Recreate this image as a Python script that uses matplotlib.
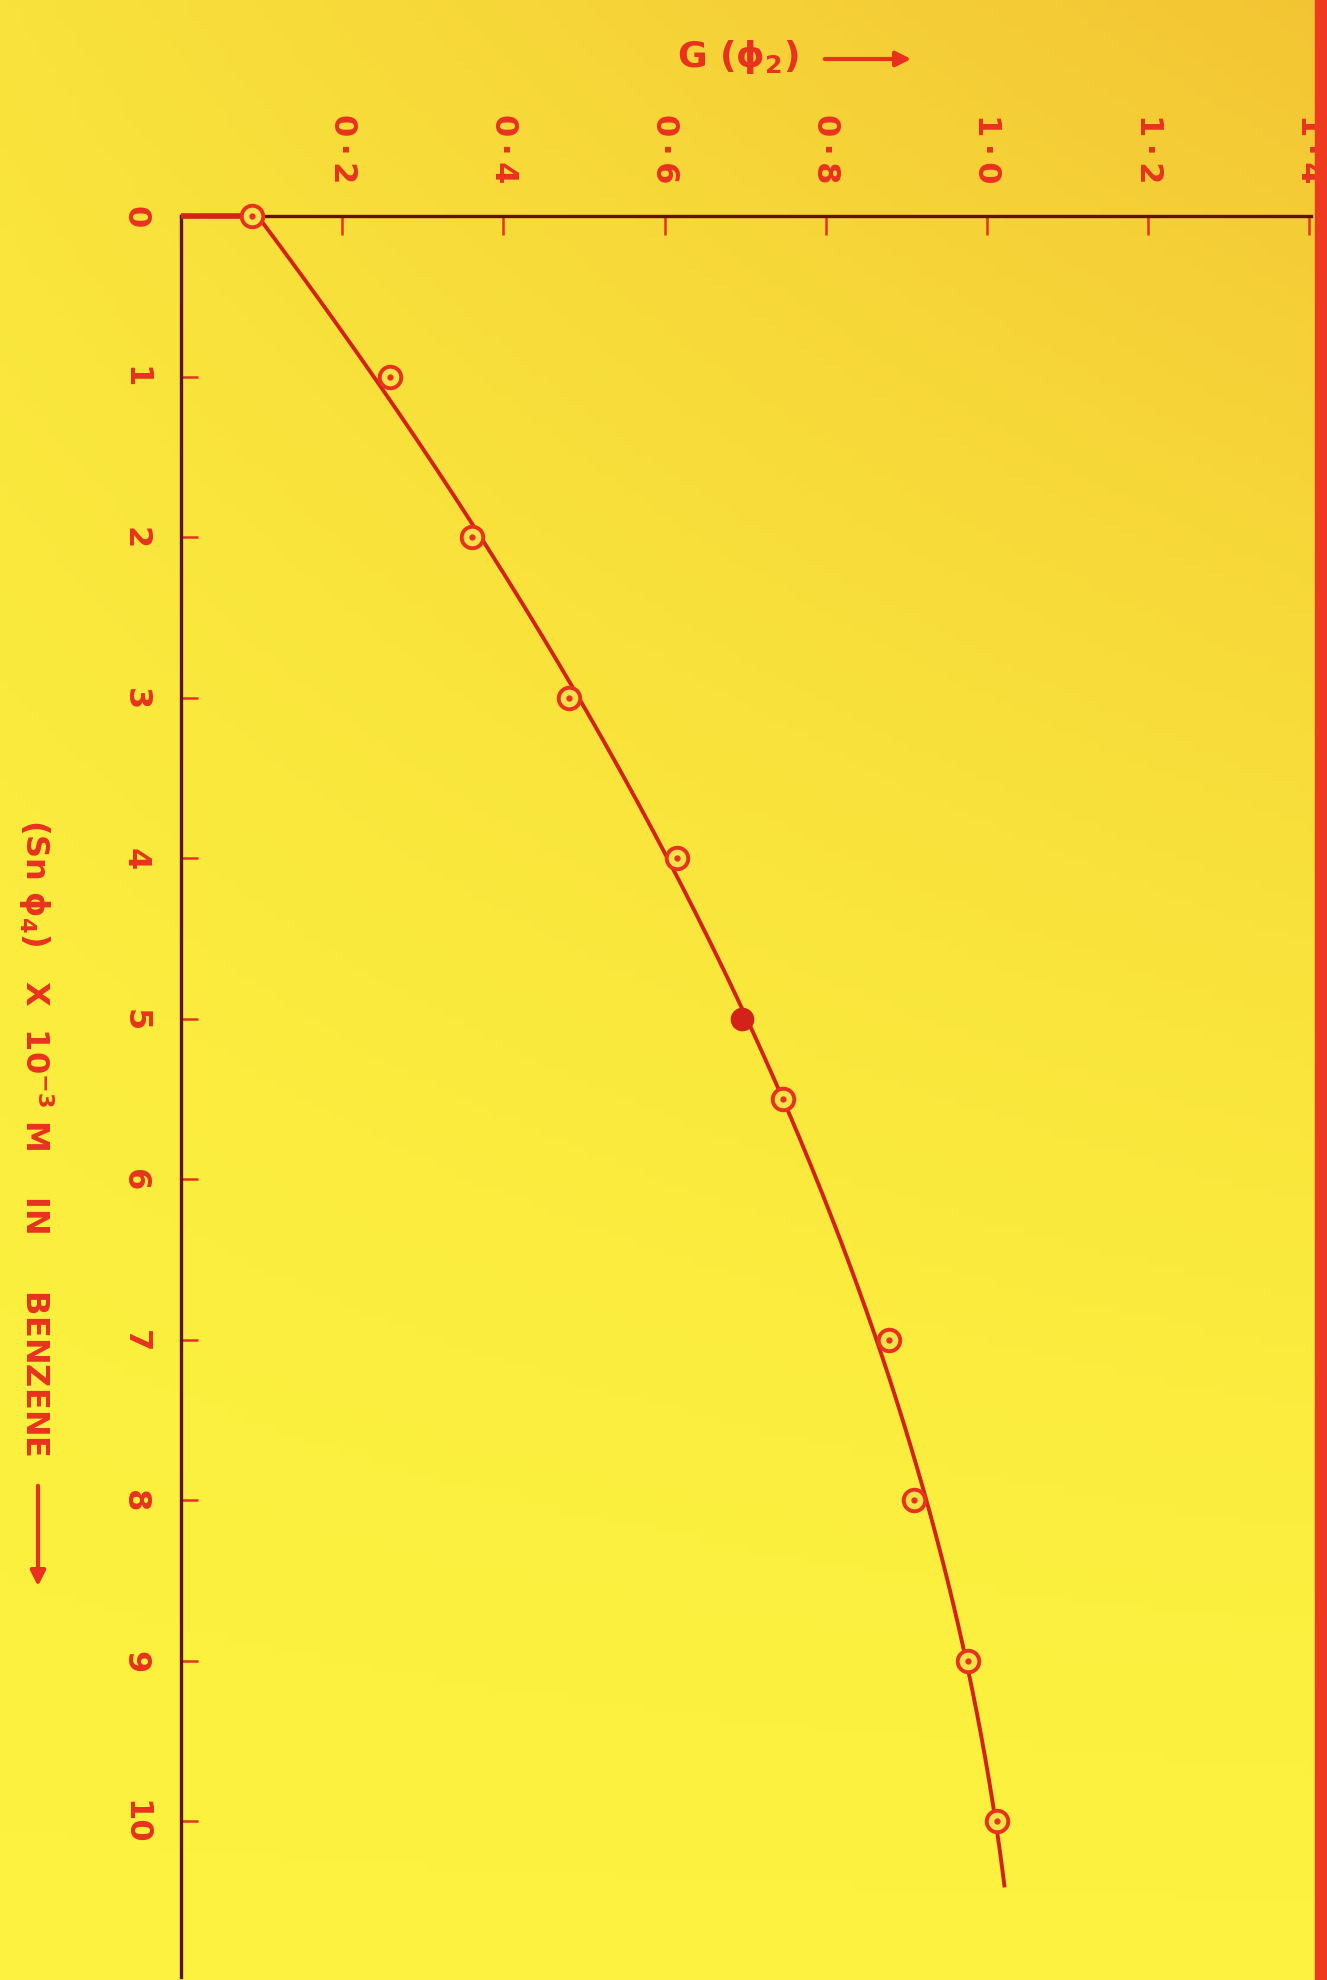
import numpy as np
import matplotlib
matplotlib.use("Agg")
import matplotlib.pyplot as plt
from matplotlib.patches import Rectangle, FancyArrowPatch

# ---- data ----
conc = [0, 1, 2, 3, 4, 5, 5.5, 7, 8, 9, 10]               # (Sn phi4) x 10^-3 M
g_phi2 = [0.088, 0.259, 0.361, 0.482, 0.615, 0.696, 0.747, 0.878, 0.910, 0.976, 1.012]
filled = [False, False, False, False, False, True, False, False, False, False, False]
curve_end = 10.4
conc_ticks = [0, 1, 2, 3, 4, 5, 6, 7, 8, 9, 10]
conc_tick_labels = ["0", "1", "2", "3", "4", "5", "6", "7", "8", "9", "10"]
g_ticks = [0.2, 0.4, 0.6, 0.8, 1.0, 1.2, 1.4]
g_tick_labels = ["0\u2009·\u20092", "0\u2009·\u20094", "0\u2009·\u20096", "0\u2009·\u20098",
                 "1\u2009·\u20090", "1\u2009·\u20092", "1\u2009·\u20094"]

RED = "#e8321e"
DARK = "#5e1208"
LINE = "#d4221a"

W, H = 1327, 1981
fig = plt.figure(figsize=(W / 100, H / 100), dpi=100)

# background (paper tint)
bg = fig.add_axes([0, 0, 1, 1], zorder=-10)
yy, xx = np.mgrid[0:1:200j, 0:1:140j]
base = np.array([0.99, 0.95, 0.25])
orange = np.array([0.95, 0.76, 0.20])
f = np.clip((1 - yy) ** 1.6 * (0.35 + 0.65 * xx) * 0.95, 0, 1)[..., None]
img = base * (1 - f) + orange * f
bg.imshow(img, aspect="auto", extent=[0, 1, 0, 1], origin="upper")
bg.set_axis_off()

left, right = 181 / W, 1311 / W
top, bottom = 1 - 217 / H, 1 - 1978 / H
ax = fig.add_axes([left, bottom, right - left, top - bottom])
ax.patch.set_alpha(0)

# smooth curve fitted through the measured points
coef = np.polyfit(conc, g_phi2, 3)
cc = np.linspace(conc[0], curve_end, 300)
ax.plot(np.polyval(coef, cc), cc, color=LINE, lw=2.8, zorder=3)
# red lead-in along the top axis to the first point
ax.plot([0, g_phi2[0]], [conc[0], conc[0]], color=LINE, lw=4, zorder=3,
        solid_capstyle="butt", clip_on=False)

for c, g, fl in zip(conc, g_phi2, filled):
    if fl:
        ax.plot(g, c, "o", ms=15, mfc=LINE, mec=LINE, mew=2, zorder=4, clip_on=False)
    else:
        ax.plot(g, c, "o", ms=15.5, mfc="#f6e24a", mec=RED, mew=2.8, zorder=4, clip_on=False)
        ax.plot(g, c, "o", ms=3.5, mfc=RED, mec=RED, zorder=5, clip_on=False)

ax.set_xlim(0, 1.402)
ax.set_ylim(10.97, 0)

ax.xaxis.set_ticks_position("top")
ax.set_xticks(g_ticks)
ax.set_xticklabels(g_tick_labels, fontweight="bold")
ax.set_yticks(conc_ticks)
ax.set_yticklabels(conc_tick_labels, fontweight="bold")
ax.tick_params(axis="x", direction="in", length=14, width=1.8, color=RED,
               labelcolor=RED, labelsize=23, pad=24, labelrotation=-90)
ax.tick_params(axis="y", direction="in", length=12, width=1.8, color=RED,
               labelcolor=RED, labelsize=23, pad=22, labelrotation=-90)
for lab in ax.get_yticklabels():
    lab.set_va("center")
    lab.set_ha("right")

for s in ["right", "bottom"]:
    ax.spines[s].set_visible(False)
for s in ["left", "top"]:
    ax.spines[s].set_color(DARK)
    ax.spines[s].set_linewidth(2.4)

# axis titles
fig.text(738 / W, 1 - 57 / H, "G (ϕ$_\\mathbf{2}$)", color=RED, fontsize=26,
         fontweight="bold", ha="center", va="center")
fig.add_artist(FancyArrowPatch(
    (822 / W, 1 - 60 / H), (914 / W, 1 - 60 / H), transform=fig.transFigure,
    arrowstyle="-|>,head_length=9,head_width=4.5", color=RED, lw=3))

fig.text(36 / W, 1 - 1138 / H,
         "(Sn ϕ$_\\mathbf{4}$)   X  10$^\\mathbf{-3}$ M    IN     BENZENE",
         color=RED, fontsize=23, fontweight="bold", rotation=-90,
         ha="center", va="center")
fig.add_artist(FancyArrowPatch(
    (38 / W, 1 - 1484 / H), (38 / W, 1 - 1590 / H), transform=fig.transFigure,
    arrowstyle="-|>,head_length=9,head_width=4.5", color=RED, lw=3))

# red strip at right edge
fig.add_artist(Rectangle((1315 / W, 0), 12 / W, 1, transform=fig.transFigure,
                         color="#ee3a1e", zorder=20))

fig.savefig("out.png", dpi=100)
